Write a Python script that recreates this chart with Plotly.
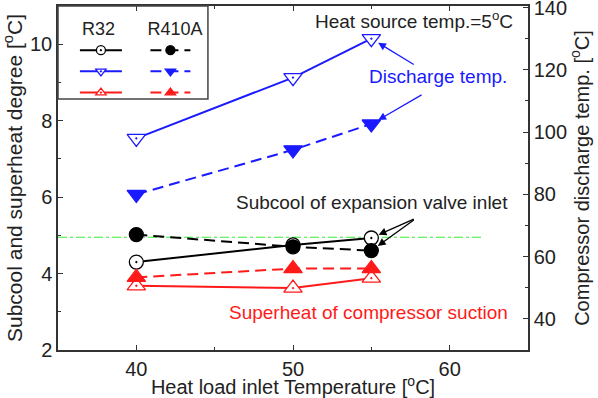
import plotly.graph_objects as go

# ---- data ----
heat_load_temp = [40, 50, 55]
r32_subcool = [4.30, 4.75, 4.93]
r410a_subcool = [5.02, 4.70, 4.60]
r32_superheat = [3.68, 3.62, 3.88]
r410a_superheat = [3.90, 4.13, 4.13]
r32_discharge = [98.0, 117.5, 130.0]
r410a_discharge = [80.0, 94.3, 102.6]
ref_line_x = [35, 62]
ref_line_y = [4.95, 4.95]

FONT = "Liberation Sans, Arial, sans-serif"
BLACK = "#000000"
BLUE = "#1a1aff"
RED = "#ff1a1a"
DASH = "11px,6px"

fig = go.Figure()

# reference dash-dot line
fig.add_trace(go.Scatter(x=ref_line_x, y=ref_line_y, mode="lines",
                         line=dict(color="#33ee33", width=1, dash="dashdot"),
                         showlegend=False, hoverinfo="skip"))

def add(x, y, color, symbol, dash, yaxis, legend, filled, size):
    mk = dict(symbol=symbol, color=color if filled else "white",
              line=dict(color=color, width=1.3))
    fig.add_trace(go.Scatter(
        x=x, y=y, mode="lines+markers", yaxis=yaxis, showlegend=False,
        line=dict(color=color, width=2, dash=dash),
        marker=dict(size=size, **mk),
    ))
    # legend-only sample
    fig.add_trace(go.Scatter(
        x=[None], y=[None], mode="lines+markers", name=" ", legend=legend, yaxis=yaxis,
        line=dict(color=color, width=2, dash=dash),
        marker=dict(size=9, **mk),
    ))

# R32 column
add(heat_load_temp, r32_subcool, BLACK, "circle-dot", "solid", "y", "legend", False, 14)
add(heat_load_temp, r32_discharge, BLUE, "triangle-down-dot", "solid", "y2", "legend", False, 16)
add(heat_load_temp, r32_superheat, RED, "triangle-up-dot", "solid", "y", "legend", False, 16)
# R410A column
add(heat_load_temp, r410a_subcool, BLACK, "circle", DASH, "y", "legend2", True, 14)
add(heat_load_temp, r410a_discharge, BLUE, "triangle-down", DASH, "y2", "legend2", True, 16)
add(heat_load_temp, r410a_superheat, RED, "triangle-up", DASH, "y", "legend2", True, 16)

axis_common = dict(showline=True, linecolor="#333", linewidth=1.5, ticks="inside",
                   ticklen=5, tickwidth=1.2, tickcolor="#333", showgrid=False,
                   zeroline=False, automargin=False,
                   tickfont=dict(family=FONT, size=20, color="#222"))

fig.update_layout(
    width=598, height=398,
    margin=dict(l=58, r=70, t=6, b=48, autoexpand=False),
    paper_bgcolor="white", plot_bgcolor="white",
    font=dict(family=FONT, color="#222"),
    xaxis=dict(range=[35, 65], tickvals=[40, 50, 60], mirror="ticks",
               minor=dict(dtick=5, tick0=0, ticks="inside", ticklen=3, tickcolor="#333"),
               title=dict(text="Heat load inlet Temperature [<sup>o</sup>C]",
                          font=dict(family=FONT, size=20), standoff=5),
               **axis_common),
    yaxis=dict(range=[2, 11], tickvals=[2, 4, 6, 8, 10],
               minor=dict(dtick=1, tick0=0, ticks="inside", ticklen=3, tickcolor="#333"),
               title=dict(text="Subcool and superheat degree [<sup>o</sup>C]",
                          font=dict(family=FONT, size=21), standoff=2),
               **axis_common),
    yaxis2=dict(range=[30, 140.5], tickvals=[40, 60, 80, 100, 120, 140], overlaying="y",
                side="right", anchor="x", ticklabeloverflow="allow",
                minor=dict(dtick=10, tick0=0, ticks="inside", ticklen=3, tickcolor="#333"),
                title=dict(text="Compressor discharge temp. [<sup>o</sup>C]",
                           font=dict(family=FONT, size=20), standoff=4),
                **axis_common),
    legend=dict(x=0.036, y=0.985, xanchor="left", yanchor="top", bgcolor="rgba(0,0,0,0)",
                title=dict(text=" R32", font=dict(family=FONT, size=18, color="#222"), side="top"),
                itemwidth=42, font=dict(size=14), tracegroupgap=0),
    legend2=dict(x=0.186, y=0.985, xanchor="left", yanchor="top", bgcolor="rgba(0,0,0,0)",
                 title=dict(text="R410A", font=dict(family=FONT, size=18, color="#222"), side="top"),
                 itemwidth=40, font=dict(size=14), tracegroupgap=0),
    showlegend=True,
)

# legend box
fig.add_shape(type="rect", xref="paper", yref="paper", x0=0, x1=0.319, y0=0.73, y1=1,
              line=dict(color="#444", width=1.5), fillcolor="rgba(0,0,0,0)")

# text annotations
fig.add_annotation(x=57.7, y=10.64, text="Heat source temp.=5<sup>o</sup>C", showarrow=False,
                   font=dict(family=FONT, size=19, color="#222"))
fig.add_annotation(x=59.25, y=9.15, text="Discharge temp.", showarrow=False,
                   font=dict(family=FONT, size=19, color=BLUE))
fig.add_annotation(x=55.05, y=5.85, text="Subcool of expansion valve inlet", showarrow=False,
                   font=dict(family=FONT, size=19, color="#222"))
fig.add_annotation(x=54.8, y=2.97, text="Superheat of compressor suction", showarrow=False,
                   font=dict(family=FONT, size=19, color=RED))

# arrows
def arrow(x, y, ax, ay, yref, color):
    fig.add_annotation(x=x, y=y, ax=ax, ay=ay, xref="x", yref=yref, axref="x", ayref=yref,
                       text=" ", showarrow=True, arrowhead=2, arrowsize=1.2, arrowwidth=1.3,
                       arrowcolor=color, standoff=8)

arrow(heat_load_temp[2], r32_discharge[2], 57.9, 121.1, "y2", BLUE)
arrow(heat_load_temp[2], r410a_discharge[2], 58.4, 112.5, "y2", BLUE)
arrow(heat_load_temp[2], r32_subcool[2], 57.9, 5.46, "y", BLACK)
arrow(heat_load_temp[2], r410a_subcool[2], 57.9, 5.46, "y", BLACK)

fig.write_html("out.html")
